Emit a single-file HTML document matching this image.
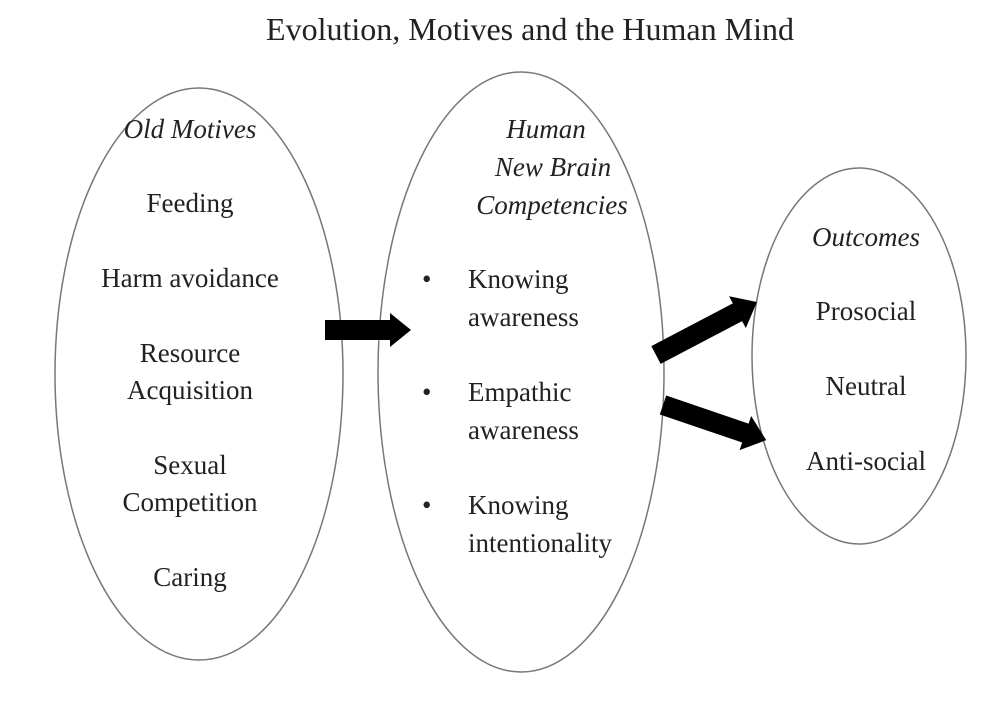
<!DOCTYPE html>
<html><head><style>
body{margin:0;background:#fff}
svg text{font-family:"Liberation Serif",serif;fill:#222}
</style></head><body>
<svg width="1006" height="707" viewBox="0 0 1006 707" xmlns="http://www.w3.org/2000/svg">
<text x="530" y="40" font-size="32" text-anchor="middle">Evolution, Motives and the Human Mind</text>
<g fill="none" stroke="#777" stroke-width="1.5">
<ellipse cx="199" cy="374" rx="144" ry="286"/>
<ellipse cx="521" cy="372" rx="143" ry="300"/>
<ellipse cx="859" cy="356" rx="107" ry="188"/>
</g>
<g font-size="27" text-anchor="middle">
<text x="190" y="138" font-style="italic">Old Motives</text>
<text x="190" y="212">Feeding</text>
<text x="190" y="287">Harm avoidance</text>
<text x="190" y="362">Resource</text>
<text x="190" y="399">Acquisition</text>
<text x="190" y="474">Sexual</text>
<text x="190" y="511">Competition</text>
<text x="190" y="586">Caring</text>
<text x="546" y="138" font-style="italic">Human</text>
<text x="553" y="176" font-style="italic">New Brain</text>
<text x="552" y="214" font-style="italic">Competencies</text>
<text x="866" y="246" font-style="italic">Outcomes</text>
<text x="866" y="320">Prosocial</text>
<text x="866" y="395">Neutral</text>
<text x="866" y="470">Anti-social</text>
</g>
<g font-size="27">
<text x="422" y="288">•</text><text x="468" y="288">Knowing</text><text x="468" y="326">awareness</text>
<text x="422" y="401">•</text><text x="468" y="401">Empathic</text><text x="468" y="439">awareness</text>
<text x="422" y="514">•</text><text x="468" y="514">Knowing</text><text x="468" y="552">intentionality</text>
</g>
<g fill="#000">
<polygon points="325,320 390,320 390,313 411,330 390,347 390,340 325,340"/>
<g transform="translate(656,355) rotate(-27.7)"><polygon points="0,-10 92,-10 92,-18 114,0 92,18 92,10 0,10"/></g>
<g transform="translate(663,405) rotate(18.8)"><polygon points="0,-10 87,-10 87,-18 109,0 87,18 87,10 0,10"/></g>
</g>
</svg>
</body></html>
